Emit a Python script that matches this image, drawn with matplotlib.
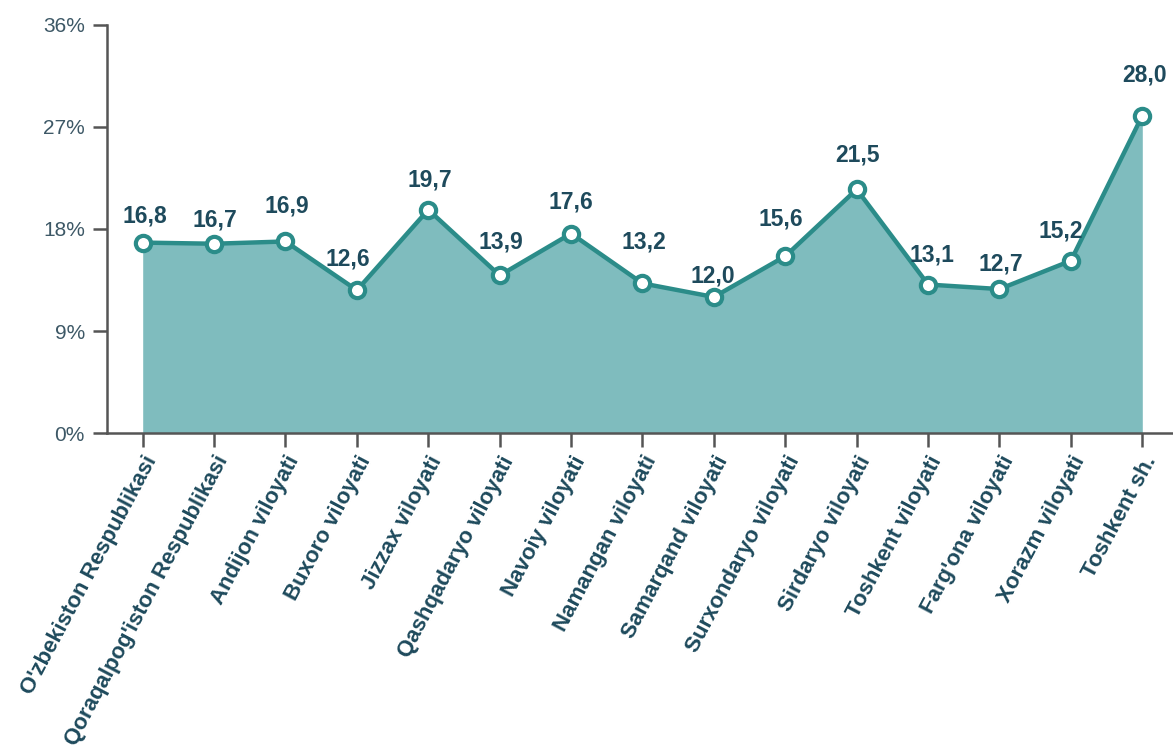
import matplotlib
matplotlib.use("Agg")
import matplotlib.pyplot as plt
from matplotlib.ticker import FuncFormatter

plt.rcParams['font.family'] = ['Liberation Sans', 'DejaVu Sans']

categories = ["O'zbekiston Respublikasi", "Qoraqalpog'iston Respublikasi", "Andijon viloyati",
              "Buxoro viloyati", "Jizzax viloyati", "Qashqadaryo viloyati", "Navoiy viloyati",
              "Namangan viloyati", "Samarqand viloyati", "Surxondaryo viloyati", "Sirdaryo viloyati",
              "Toshkent viloyati", "Farg'ona viloyati", "Xorazm viloyati", "Toshkent sh."]
values = [16.8, 16.7, 16.9, 12.6, 19.7, 13.9, 17.6, 13.2, 12.0, 15.6, 21.5, 13.1, 12.7, 15.2, 28.0]
yticks = [0, 9, 18, 27, 36]

# label placement (pixel offsets from marker centre) - style only
label_dx = [2, 1, 1, -9, 2, 1, 0, 1, -1, -4, 1, 4, 1, -10, 2]
label_dy = [27, 24, 35, 31, 30, 33, 32, 41, 21, 37, 34, 30, 25, 30, 41]

line_c = '#2b8c89'
fill_c = '#7fbcbe'
text_c = '#1e4a5c'
axis_c = '#555555'

fig = plt.figure(figsize=(11.73, 7.49), dpi=100)
ax = fig.add_axes([107/1173, 1 - 433/749, 1 - 107/1173, 408/749])

x = list(range(len(values)))
ax.fill_between(x, values, 0, color=fill_c, linewidth=0, zorder=1)
ax.plot(x, values, color=line_c, linewidth=3.2, marker='o', markersize=11,
        markerfacecolor='white', markeredgecolor=line_c, markeredgewidth=3, zorder=3,
        clip_on=False)

for xi, v, dx, dy in zip(x, values, label_dx, label_dy):
    ax.annotate(f"{v:.1f}".replace('.', ','), (xi, v), xytext=(dx, dy), textcoords='offset pixels',
                ha='center', va='center', fontsize=16.5, fontweight='bold', color=text_c, zorder=4)

ax.set_xlim(-0.5, 14.43)
ax.set_ylim(0, 36)
ax.set_yticks(yticks)
ax.yaxis.set_major_formatter(FuncFormatter(lambda v, p: f"{int(v)}%"))
ax.set_xticks(x)
ax.set_xticklabels(categories, rotation=62, ha='right', rotation_mode='anchor',
                   fontsize=16, fontweight='bold')

for s in ['top', 'right']:
    ax.spines[s].set_visible(False)
for s in ['left', 'bottom']:
    ax.spines[s].set_color(axis_c)
    ax.spines[s].set_linewidth(1.8)
ax.tick_params(axis='both', colors=axis_c, width=1.8, length=10)
ax.tick_params(axis='y', labelsize=15, labelcolor='#3d5866', pad=6)
ax.tick_params(axis='x', labelcolor=text_c, pad=4)

fig.savefig('out.png', dpi=100)
